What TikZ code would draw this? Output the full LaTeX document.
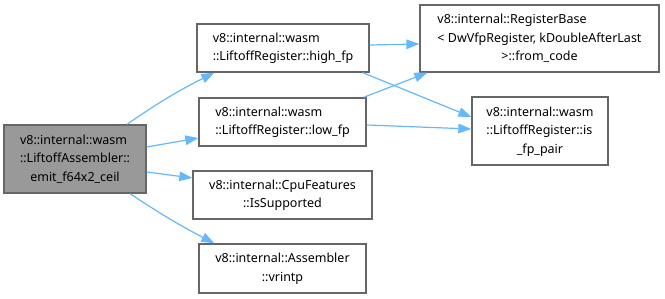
\documentclass[tikz,border=0pt]{standalone}
\usepackage{fontspec}
\setmainfont{Noto Sans}
\usetikzlibrary{arrows.meta,calc}
\definecolor{edgeblue}{HTML}{63B8FF}
\definecolor{boxline}{HTML}{666666}
\definecolor{mainfill}{HTML}{999999}
% left-justified row inside a centred tabular
\newcommand\lft[1]{\multicolumn{1}{@{}l@{}}{#1}}
\newcommand\rows[1]{\begin{tabular}{@{}c@{}}#1\end{tabular}}
\begin{document}
\begin{tikzpicture}[x=1pt,y=1pt,
  fn/.style={draw=boxline, line width=1.3pt, fill=white, inner sep=0pt,
    font=\fontsize{12.5}{18.5}\selectfont, anchor=center},
  mainfn/.style={fn, fill=mainfill},
  call/.style={draw=edgeblue, line width=1.2pt,
    -{Triangle[length=13pt,width=9.5pt]}}]
\useasboundingbox (0,0) rectangle (665,298);

\node[mainfn, minimum width=142pt, minimum height=68pt] (main) at (75,139)
  {\rows{\lft{v8::internal::wasm}\\ ::LiftoffAssembler::\\ emit\_f64x2\_ceil}};
\node[fn, minimum width=172pt, minimum height=48pt] (high) at (283,250)
  {\rows{\lft{v8::internal::wasm}\\ ::LiftoffRegister::high\_fp}};
\node[fn, minimum width=167pt, minimum height=48pt] (low) at (282.5,176)
  {\rows{\lft{v8::internal::wasm}\\ ::LiftoffRegister::low\_fp}};
\node[fn, minimum width=179pt, minimum height=48pt] (cpu) at (282.5,103)
  {\rows{\lft{v8::internal::CpuFeatures}\\ ::IsSupported}};
\node[fn, minimum width=167pt, minimum height=49pt] (vrintp) at (282.5,29.5)
  {\rows{\lft{v8::internal::Assembler}\\ ::vrintp}};
\node[fn, minimum width=239pt, minimum height=67pt] (regbase) at (539.5,259.5)
  {\rows{\lft{v8::internal::RegisterBase}\\ \lft{< DwVfpRegister, kDoubleAfterLast}\\ >::from\_code}};
\node[fn, minimum width=136pt, minimum height=68pt] (pair) at (540,167)
  {\rows{\lft{v8::internal::wasm}\\ \lft{::LiftoffRegister::is}\\ \_fp\_pair}};

% calls made by emit_f64x2_ceil
\draw[call] ($(main.north)+(52,0)$) to[bend left=4] ($(high.south west)+(18,0)$);
\draw[call] ($(main.east)+(0,12)$) -- ($(low.west)+(0,-16)$);
\draw[call] ($(main.east)+(0,-13)$) -- ($(cpu.west)+(0,17)$);
\draw[call] ($(main.south)+(55,0)$) to[bend right=3] ($(vrintp.north west)+(16,0)$);
% calls made by high_fp and low_fp
\draw[call] ($(high.east)+(0,3)$) -- ($(regbase.west)+(0,-5.5)$);
\draw[call] ($(high.south east)+(-7,0)$) -- ($(pair.west)+(0,14)$);
\draw[call] ($(low.north east)+(-3,0)$) -- ($(regbase.south west)+(8,0)$);
\draw[call] ($(low.east)+(0,-3)$) -- ($(pair.west)+(0,2)$);
\end{tikzpicture}
\end{document}
